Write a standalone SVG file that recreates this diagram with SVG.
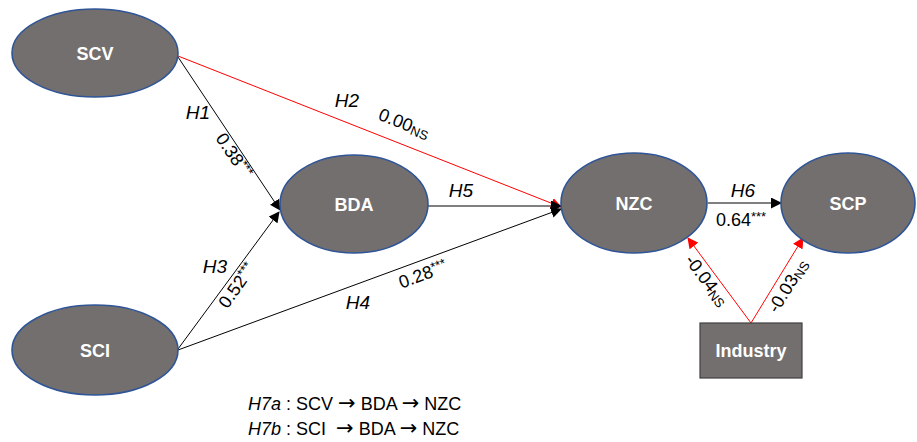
<svg xmlns="http://www.w3.org/2000/svg" width="917" height="442" viewBox="0 0 917 442">
  <style>
    .node { fill: #736f6e; stroke: #2f5597; stroke-width: 1.6; }
    .box { fill: #736f6e; stroke: #404040; stroke-width: 1.2; }
    .nlabel { font-family: "Liberation Sans", Arial, sans-serif; font-weight: bold; font-size: 18px; fill: #ffffff; text-anchor: middle; }
    .edge { stroke: #000000; stroke-width: 1; fill: none; marker-end: url(#ah-black); }
    .edge-red { stroke: #ff0000; stroke-width: 1; fill: none; marker-end: url(#ah-red); }
    .hyp { font-family: "Liberation Sans", Arial, sans-serif; font-style: italic; font-size: 19px; fill: #000000; text-anchor: middle; }
    .coef { font-family: "Liberation Sans", Arial, sans-serif; font-size: 18px; fill: #000000; text-anchor: middle; }
    .sup { font-size: 13px; }
    .note { font-family: "Liberation Sans", Arial, sans-serif; font-size: 18px; fill: #000000; white-space: pre; }
    .arr { font-family: "DejaVu Sans", sans-serif; font-size: 21px; }
  </style>
  <defs>
    <marker id="ah-black" markerWidth="11" markerHeight="11" refX="10" refY="5.5" orient="auto" markerUnits="userSpaceOnUse">
      <path d="M0,0 L11,5.5 L0,11 z" fill="#000000"/>
    </marker>
    <marker id="ah-red" markerWidth="11" markerHeight="11" refX="10" refY="5.5" orient="auto" markerUnits="userSpaceOnUse">
      <path d="M0,0 L11,5.5 L0,11 z" fill="#ff0000"/>
    </marker>
  </defs>

  <!-- connectors -->
  <g id="connectors">
    <line class="edge" x1="178" y1="57" x2="280" y2="210"/>
    <line class="edge" x1="178" y1="349" x2="279" y2="212"/>
    <line class="edge-red" x1="178" y1="56" x2="561" y2="207"/>
    <line class="edge" x1="428" y1="206" x2="561" y2="206"/>
    <line class="edge" x1="178" y1="350" x2="561" y2="209"/>
    <line class="edge" x1="708" y1="203" x2="781" y2="203"/>
    <line class="edge-red" x1="751" y1="323" x2="688" y2="238"/>
    <line class="edge-red" x1="751" y1="323" x2="803" y2="238"/>
  </g>

  <!-- path labels -->
  <g id="labels">
    <text class="hyp" x="198" y="119">H1</text>
    <text class="coef" transform="translate(229,159) rotate(56)">0.38<tspan class="sup" dy="-5">***</tspan></text>
    <text class="hyp" x="347" y="107">H2</text>
    <text class="coef" transform="translate(402,129) rotate(21.5)">0.00<tspan class="sup" dy="2">NS</tspan></text>
    <text class="hyp" x="461" y="197">H5</text>
    <text class="hyp" x="215" y="273">H3</text>
    <text class="coef" transform="translate(242,289) rotate(-55)">0.52<tspan class="sup" dy="-5">***</tspan></text>
    <text class="hyp" x="358" y="309">H4</text>
    <text class="coef" transform="translate(425,280) rotate(-20.3)">0.28<tspan class="sup" dy="-5">***</tspan></text>
    <text class="hyp" x="743" y="197">H6</text>
    <text class="coef" x="741" y="226">0.64<tspan class="sup" dy="-5">***</tspan></text>
    <text class="coef" transform="translate(702,284) rotate(53)">-0.04<tspan class="sup" dy="2">NS</tspan></text>
    <text class="coef" transform="translate(793,289) rotate(-58)">-0.03<tspan class="sup" dy="2">NS</tspan></text>
  </g>

  <!-- constructs -->
  <g id="node-scv">
    <ellipse class="node" cx="95" cy="53" rx="83" ry="44"/>
    <text class="nlabel" x="95" y="60">SCV</text>
  </g>
  <g id="node-sci">
    <ellipse class="node" cx="95" cy="350" rx="83" ry="45"/>
    <text class="nlabel" x="95" y="357">SCI</text>
  </g>
  <g id="node-bda">
    <ellipse class="node" cx="354" cy="204" rx="74" ry="49"/>
    <text class="nlabel" x="354" y="211">BDA</text>
  </g>
  <g id="node-nzc">
    <ellipse class="node" cx="634" cy="203" rx="73" ry="50"/>
    <text class="nlabel" x="634" y="210">NZC</text>
  </g>
  <g id="node-scp">
    <ellipse class="node" cx="848" cy="203" rx="67" ry="50"/>
    <text class="nlabel" x="848" y="210">SCP</text>
  </g>
  <g id="node-industry">
    <rect class="box" x="700" y="323" width="102" height="55"/>
    <text class="nlabel" x="751" y="357">Industry</text>
  </g>

  <!-- mediation hypotheses -->
  <g id="notes">
    <text class="note" x="248" y="410"><tspan font-style="italic">H7a</tspan> : SCV <tspan class="arr">→</tspan> BDA <tspan class="arr">→</tspan> NZC</text>
    <text class="note" x="248" y="435"><tspan font-style="italic">H7b</tspan> : SCI  <tspan class="arr">→</tspan> BDA <tspan class="arr">→</tspan> NZC</text>
  </g>
</svg>
